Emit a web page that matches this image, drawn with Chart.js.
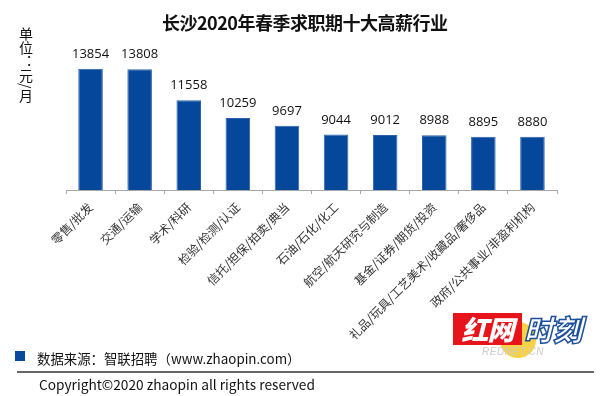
<!DOCTYPE html>
<html lang="zh">
<head>
<meta charset="utf-8">
<title>长沙2020年春季求职期十大高薪行业</title>
<script src="https://cdn.jsdelivr.net/npm/chart.js@4/dist/chart.umd.min.js"></script>
<style>
  html, body { margin: 0; padding: 0; background: #fff; }
  #wrap { position: relative; width: 600px; height: 396px; overflow: hidden;
          font-family: 'Noto Sans CJK SC', 'Noto Sans', sans-serif; color: #111; }
  #chart { position: absolute; left: 0; top: 0; }
  .title { position: absolute; left: 162px; top: 11px; font-size: 18px; font-weight: 700;
           letter-spacing: -0.5px; line-height: 22px; white-space: nowrap; color: #111; }
  .unit { position: absolute; left: 19px; top: 27px; font-size: 14px; line-height: 14px;
          writing-mode: vertical-rl; text-orientation: mixed; color: #111; }
  .src-box { position: absolute; left: 15px; top: 351px; width: 10px; height: 10px; background: #0a4a9a; }
  .src { position: absolute; left: 37px; top: 349px; font-size: 13.4px; line-height: 18px; white-space: nowrap; }
  .rule { position: absolute; left: 17px; top: 371px; width: 577px; height: 0; border-top: 2px solid #666; }
  .copy { position: absolute; left: 39px; top: 375px; font-size: 13.7px; line-height: 18px; white-space: nowrap; }
  /* watermark */
  .wm-circle { position: absolute; left: 500px; top: 322px; width: 36px; height: 36px; border-radius: 50%;
               background: #f5c518; opacity: .8; }
  .wm-red { position: absolute; left: 453px; top: 313px; width: 69px; height: 32px; background: #e8141b;
            color: #fff; font-size: 27px; font-weight: 900; font-style: italic; line-height: 32px;
            text-align: center; letter-spacing: -1px; }
  .wm-blue { position: absolute; left: 524px; top: 311px; font-size: 29px; font-weight: 900; font-style: italic;
             line-height: 34px; color: #fff; -webkit-text-stroke: 1.5px #1c4f9c; }
  .wm-net { position: absolute; left: 482px; top: 346px; font-size: 10px; font-style: italic; color: #ccc;
            font-family: 'Liberation Sans', sans-serif; letter-spacing: .5px; }
</style>
</head>
<body>
<div id="wrap">
  <canvas id="chart" width="600" height="396"></canvas>
  <div class="title">长沙2020年春季求职期十大高薪行业</div>
  <div class="unit">单位：元/月</div>

  <div class="wm-circle"></div>
  <div class="wm-red">红网</div>
  <div class="wm-blue">时刻</div>
  <div class="wm-net">REDNET.CN</div>

  <div class="src-box"></div>
  <div class="src">数据来源：智联招聘（www.zhaopin.com）</div>
  <div class="rule"></div>
  <div class="copy">Copyright©2020 zhaopin all rights reserved</div>
</div>

<script>
  /* ── Data ─────────────────────────────────────────────── */
  const categories = [
    '零售/批发', '交通/运输', '学术/科研', '检验/检测/认证', '信托/担保/拍卖/典当',
    '石油/石化/化工', '航空/航天研究与制造', '基金/证券/期货/投资',
    '礼品/玩具/工艺美术/收藏品/奢侈品', '政府/公共事业/非盈利机构'
  ];
  const salaries = [13854, 13808, 11558, 10259, 9697, 9044, 9012, 8988, 8895, 8880];
  const yMin = 5000;
  const yMax = 15000;

  /* ── Value labels above bars ──────────────────────────── */
  const valueLabels = {
    id: 'valueLabels',
    afterDatasetsDraw(chart) {
      const ctx = chart.ctx;
      const meta = chart.getDatasetMeta(0);
      ctx.save();
      ctx.font = '13px "Open Sans", sans-serif';
      ctx.fillStyle = '#111';
      ctx.textAlign = 'center';
      ctx.textBaseline = 'alphabetic';
      meta.data.forEach((bar, i) => {
        ctx.fillText(String(salaries[i]), bar.x, bar.y - 11);
      });
      ctx.restore();
    }
  };

  new Chart(document.getElementById('chart'), {
    type: 'bar',
    data: {
      labels: categories,
      datasets: [{
        data: salaries,
        backgroundColor: '#05479a',
        borderColor: '#2c62ad',
        borderWidth: 1,
        barPercentage: 0.5,
        categoryPercentage: 1.0
      }]
    },
    options: {
      responsive: false,
      animation: false,
      layout: { padding: { left: 66, right: 43, top: 53, bottom: 0 } },
      plugins: {
        legend: { display: false },
        tooltip: { enabled: false },
        title: { display: false }
      },
      scales: {
        x: {
          afterFit(scale) { scale.height = 206; },
          border: { display: true, color: '#a8a8a8', width: 1 },
          grid: { display: true, drawOnChartArea: false, drawTicks: true, tickLength: 4,
                  color: '#a8a8a8', offset: true },
          ticks: {
            autoSkip: false,
            minRotation: 45,
            maxRotation: 45,
            padding: 6,
            color: '#333',
            font: { family: '"Noto Sans CJK SC", sans-serif', size: 12 }
          }
        },
        y: {
          display: false,
          min: yMin,
          max: yMax
        }
      }
    },
    plugins: [valueLabels]
  });
</script>
</body>
</html>
